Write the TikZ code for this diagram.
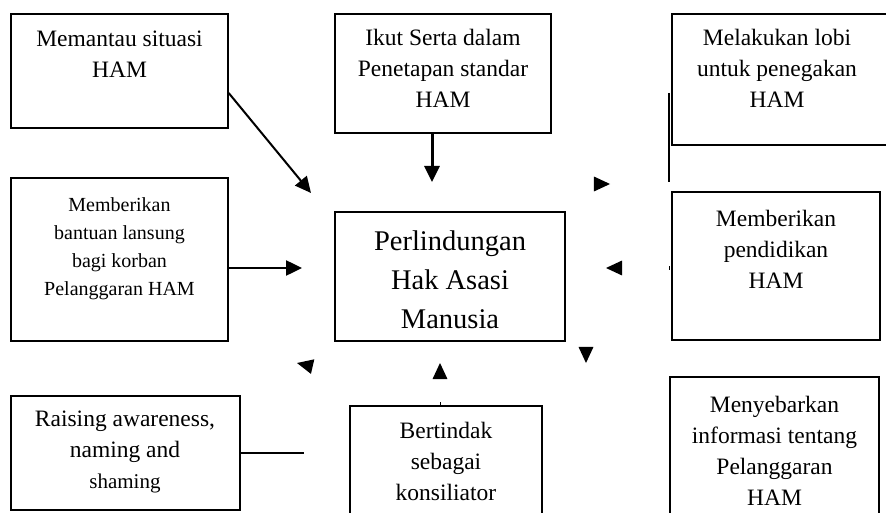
\documentclass[tikz,border=0pt]{standalone}
\usepackage{fontspec}
\setmainfont{Liberation Serif}
\usetikzlibrary{arrows.meta}

\begin{document}
\begin{tikzpicture}[->,>={Triangle[length=16pt,width=15pt]},x=1pt,y=-1pt,line width=1.5pt]
	\tikzstyle{box}=[draw,rectangle,inner sep=0pt,line width=1.4pt]
	\tikzstyle{txt}=[align=center,inner sep=0pt,anchor=base,font=\fontsize{23.5}{31}\selectfont]
	\useasboundingbox (0,0) rectangle (886,513);

	\node[box,minimum width=217,minimum height=114] (pantau)      at (119.5,71)  {};
	\node[box,minimum width=216,minimum height=119] (standar)     at (443,73.5)  {};
	\node[box,minimum width=218,minimum height=131] (lobi)        at (781,79.5)  {};
	\node[box,minimum width=217,minimum height=163] (bantuan)     at (119.5,259.5) {};
	\node[box,minimum width=230,minimum height=129] (hak)         at (450,276.5) {};
	\node[box,minimum width=208,minimum height=148] (didik)       at (776,266)   {};
	\node[box,minimum width=229,minimum height=114] (raising)     at (125.5,453) {};
	\node[box,minimum width=192,minimum height=120] (konsiliator) at (446,466)   {};
	\node[box,minimum width=209,minimum height=150] (sebar)       at (774.5,452) {};

	% text, placed by the baseline of the last line
	\node[txt] (pantau-t)  at (119.5,78) {Memantau situasi\\HAM};
	\node[txt] (standar-t) at (443,108)  {Ikut Serta dalam\\Penetapan standar\\HAM};
	\node[txt] (lobi-t)    at (777,108)  {Melakukan lobi\\untuk penegakan\\HAM};
	\node[txt,font=\fontsize{20}{28}\selectfont] (bantuan-t) at (119.5,295) {Memberikan\\bantuan lansung\\bagi korban\\Pelanggaran HAM};
	\node[txt,font=\fontsize{28.5}{39}\selectfont] (hak-t) at (450,328) {Perlindungan\\Hak Asasi\\Manusia};
	\node[txt] (didik-t)   at (776,288)  {Memberikan\\pendidikan\\HAM};
	\node[txt] (raising-t) at (125,488)  {Raising awareness,\\naming and\\{\fontsize{21}{30}\selectfont shaming}};
	\node[txt] (konsiliator-t) at (446,500) {Bertindak\\sebagai\\konsiliator};
	\node[txt] (sebar-t)   at (774.5,505) {Menyebarkan\\informasi tentang\\Pelanggaran\\HAM};

	\coordinate (a1) at (311,193);
	\coordinate (a2) at (432,182);
	\coordinate (a3) at (302,268);
	\coordinate (a4) at (304,453);
	\coordinate (v1) at (669,93);
	\coordinate (v2) at (669,182);

	\draw[line width=2pt] ([yshift=-22]pantau.east) -- (a1);
	\draw[line width=3pt] ([xshift=-11]standar.south) -- (a2);
	\draw[line width=2.5pt] ([yshift=-8.5]bantuan.east) -- (a3);
	\draw[-,line width=2.2pt] (raising.east) -- (a4);
	\draw[-,line width=1.8pt] (v1) -- (v2);

	% arrow heads without lines
	\coordinate (h1) at (610,184);
	\coordinate (h2) at (606,268);
	\coordinate (h3) at (586,363);
	\coordinate (h4) at (297,363);
	\coordinate (h5) at (440,363);
	\fill (h1) -- ([shift={(155:17.7)}]h1) -- ([shift={(205:17.7)}]h1) -- cycle;
	\fill (h2) -- ([shift={(-25:17.7)}]h2) -- ([shift={(25:17.7)}]h2) -- cycle;
	\fill (h3) -- ([shift={(-115:17.7)}]h3) -- ([shift={(-65:17.7)}]h3) -- cycle;
	\fill (h4) -- ([shift={(-12:17.7)}]h4) -- ([shift={(38:17.7)}]h4) -- cycle;
	\fill (h5) -- ([shift={(65:17.7)}]h5) -- ([shift={(115:17.7)}]h5) -- cycle;

	\draw[-,line width=1pt] (669,266) -- (669,270);
	\draw[-,line width=1pt] (440,402) -- (440,406);
\end{tikzpicture}
\end{document}
